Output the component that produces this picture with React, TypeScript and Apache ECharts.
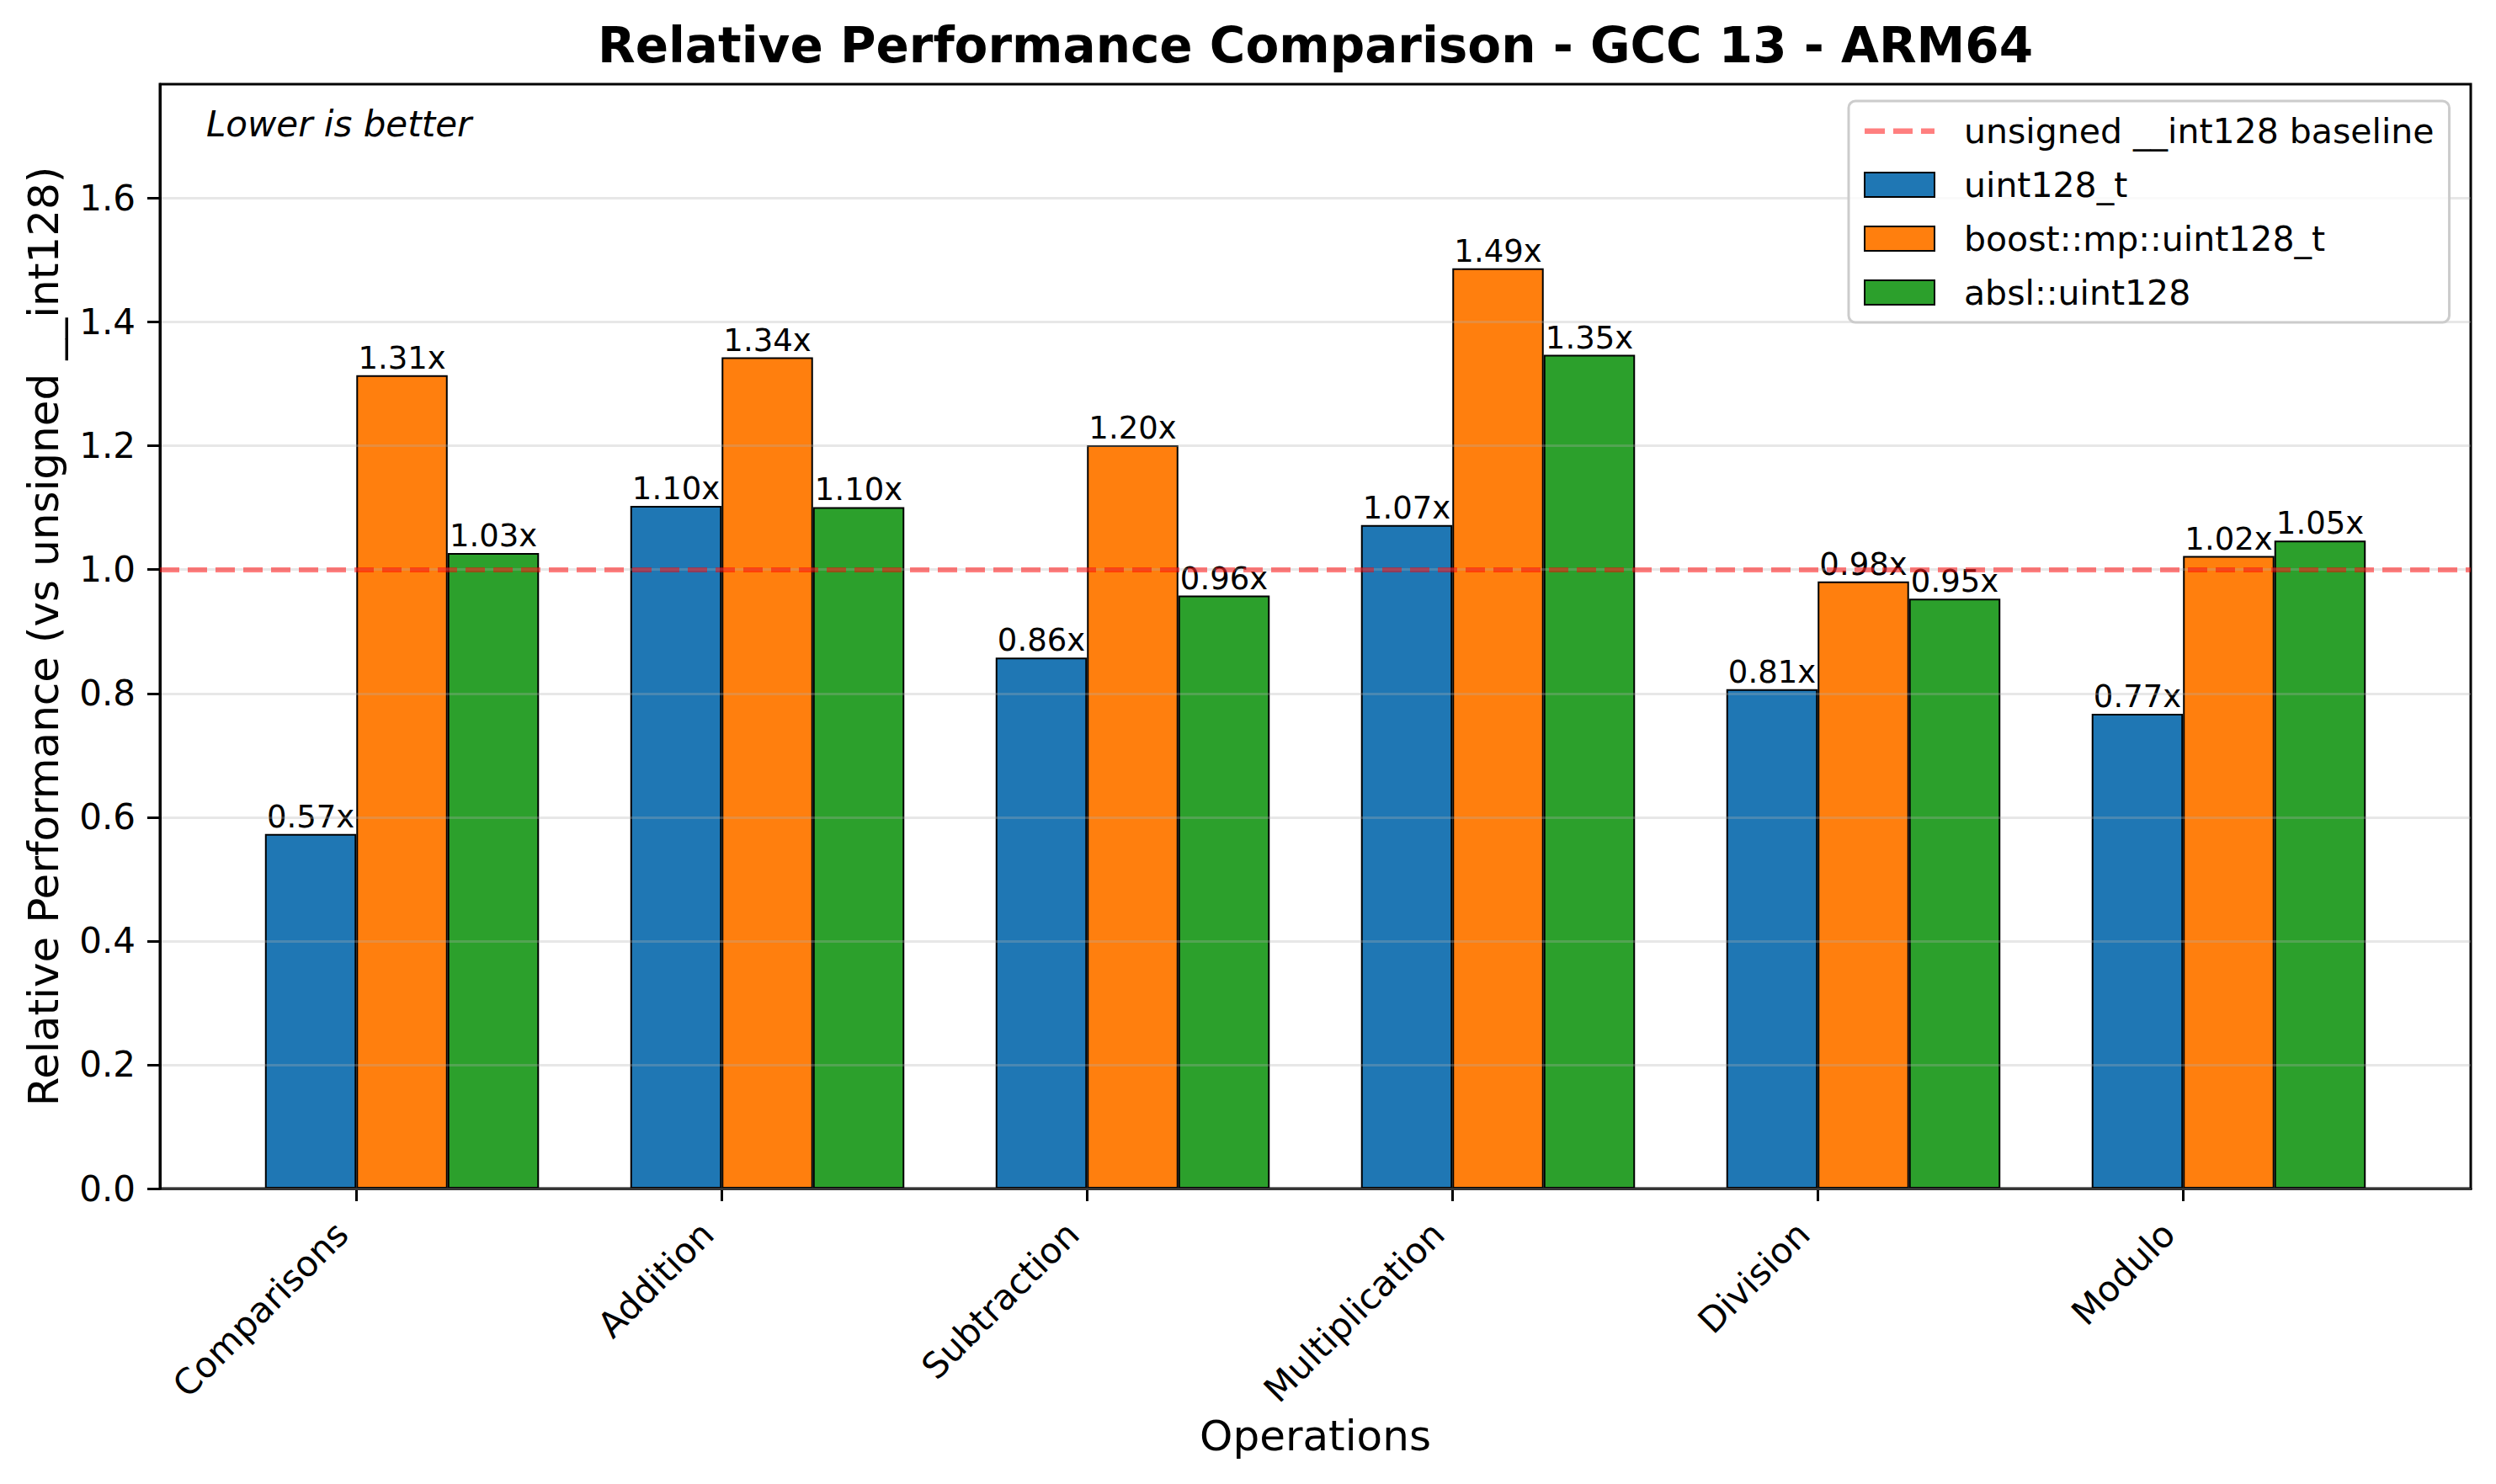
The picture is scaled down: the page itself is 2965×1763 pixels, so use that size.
import React, { useEffect, useRef } from 'react';
import * as echarts from 'echarts';

const categories = ['Comparisons', 'Addition', 'Subtraction', 'Multiplication', 'Division', 'Modulo'];
const seriesNames = ['uint128_t', 'boost::mp::uint128_t', 'absl::uint128'];
const uint128Values = [0.573, 1.103, 0.858, 1.072, 0.807, 0.767];
const boostValues = [1.314, 1.343, 1.201, 1.487, 0.981, 1.022];
const abslValues = [1.027, 1.101, 0.958, 1.347, 0.953, 1.047];
const seriesColors = ['#1f77b4', '#ff7f0e', '#2ca02c'];
const yTicks = [0, 0.2, 0.4, 0.6, 0.8, 1.0, 1.2, 1.4, 1.6];
const baselineValue = 1.0;
const baselineName = 'unsigned __int128 baseline';
const titleText = 'Relative Performance Comparison - GCC 13 - ARM64';
const yAxisLabel = 'Relative Performance (vs unsigned __int128)';
const xAxisLabel = 'Operations';
const noteText = 'Lower is better';

const W = 2965;
const H = 1763;
const GRID = { left: 190, top: 100, width: 2745, height: 1312 };
const FONT = '"DejaVu Sans", "Liberation Sans", sans-serif';
const BAR_W = 0.25;
const DASH_ICON =
  'path://M0,0h0.01v0.01h-0.01zM83,29h0.01v0.01h-0.01zM0,11.5h24v6.5h-24zM34,11.5h23v6.5h-23zM67,11.5h16v6.5h-16z';

export default function App() {
  const ref = useRef<HTMLDivElement>(null);
  useEffect(() => {
    if (!ref.current) return;
    const chart = echarts.init(ref.current, null, { renderer: 'svg', width: W, height: H });
    const all = [uint128Values, boostValues, abslValues];
    const n = categories.length;
    const dataLo = -BAR_W;
    const dataHi = n - 1 + 2 * BAR_W;
    const margin = 0.05 * (dataHi - dataLo);
    const xMin = dataLo - margin;
    const xMax = dataHi + margin;
    const pxPerUnit = GRID.width / (xMax - xMin);
    const barPx = BAR_W * pxPerUnit;
    const yMax = Math.max(...all.flat()) * 1.2;
    const catIdx = categories.map((_, i) => i);

    const barSeries = all.map((vals, k) => ({
      name: seriesNames[k],
      type: 'bar',
      barWidth: barPx,
      barGap: '-100%',
      z: 2,
      itemStyle: { color: seriesColors[k], borderColor: '#000', borderWidth: 2 },
      label: {
        show: true,
        position: 'top',
        distance: 2,
        fontFamily: FONT,
        fontSize: 37,
        color: '#000',
        formatter: (p: any) => p.value[1].toFixed(2) + 'x',
      },
      data: vals.map((v, i) => [i + (k - 1) * BAR_W + BAR_W / 2, v]),
    }));

    const baselineStyle = { color: 'rgba(255,0,0,0.5)', width: 6, type: [23, 10] };

    const option: any = {
      animation: false,
      backgroundColor: '#fff',
      grid: {
        left: GRID.left,
        top: GRID.top,
        width: GRID.width,
        height: GRID.height,
        show: true,
        borderColor: '#000',
        borderWidth: 3,
        backgroundColor: 'transparent',
      },
      legend: {
        orient: 'vertical',
        left: 2196,
        top: 120,
        padding: [15, 18, 15, 18],
        itemWidth: 83,
        itemHeight: 29,
        itemGap: 23,
        backgroundColor: 'rgba(255,255,255,0.8)',
        borderColor: '#cccccc',
        borderWidth: 3,
        borderRadius: 8,
        textStyle: { fontFamily: FONT, fontSize: 41, color: '#000', padding: [0, 0, 0, 30] },
        data: [
          { name: baselineName, icon: DASH_ICON, itemStyle: { color: 'rgba(255,0,0,0.5)', borderWidth: 0 } },
          ...seriesNames.map((s) => ({ name: s, icon: 'rect' })),
        ],
        z: 10,
      },
      xAxis: {
        type: 'value',
        min: xMin,
        max: xMax,
        splitLine: { show: false },
        axisLine: { show: true, onZero: false, lineStyle: { color: '#000', width: 3 } },
        axisTick: { show: true, customValues: catIdx, length: 15, lineStyle: { color: '#000', width: 3 } },
        axisLabel: {
          customValues: catIdx,
          rotate: 45,
          margin: 30,
          padding: [0, 24, 0, 0],
          fontFamily: FONT,
          fontSize: 42,
          color: '#000',
          formatter: (v: number) => categories[Math.round(v)] ?? '',
        },
      },
      yAxis: {
        type: 'value',
        min: 0,
        max: yMax,
        interval: 0.2,
        z: 3,
        splitLine: { show: true, lineStyle: { color: 'rgba(176,176,176,0.3)', width: 3 } },
        axisLine: { show: true, onZero: false, lineStyle: { color: '#000', width: 3 } },
        axisTick: { show: true, customValues: yTicks, length: 15, lineStyle: { color: '#000', width: 3 } },
        axisLabel: {
          customValues: yTicks,
          margin: 29,
          fontFamily: FONT,
          fontSize: 42,
          color: '#000',
          formatter: (v: number) => v.toFixed(1),
        },
      },
      graphic: [
        {
          type: 'text',
          x: GRID.left + GRID.width / 2,
          y: 54,
          style: { text: titleText, font: `bold 58px ${FONT}`, fill: '#000', align: 'center', verticalAlign: 'middle' },
        },
        {
          type: 'text',
          x: GRID.left + GRID.width / 2,
          y: 1706,
          style: { text: xAxisLabel, font: `50px ${FONT}`, fill: '#000', align: 'center', verticalAlign: 'middle' },
        },
        {
          type: 'text',
          x: 52,
          y: GRID.top + GRID.height / 2,
          rotation: Math.PI / 2,
          style: { text: yAxisLabel, font: `50px ${FONT}`, fill: '#000', align: 'center', verticalAlign: 'middle' },
        },
        {
          type: 'text',
          x: GRID.left + 0.02 * GRID.width,
          y: GRID.top + 0.02 * GRID.height,
          style: { text: noteText, font: `italic 42px ${FONT}`, fill: '#000', align: 'left', verticalAlign: 'top' },
        },
      ],
      series: [
        {
          name: baselineName,
          type: 'line',
          data: [],
          symbol: 'none',
          z: 5,
          lineStyle: baselineStyle,
          itemStyle: { color: 'rgba(255,0,0,0.5)' },
          markLine: {
            silent: true,
            symbol: ['none', 'none'],
            label: { show: false },
            lineStyle: baselineStyle,
            data: [{ yAxis: baselineValue }],
          },
        },
        ...barSeries,
      ],
    };
    chart.setOption(option);
    return () => chart.dispose();
  }, []);
  return <div ref={ref} style={{ position: 'fixed', left: 0, top: 0, width: W, height: H }} />;
}
